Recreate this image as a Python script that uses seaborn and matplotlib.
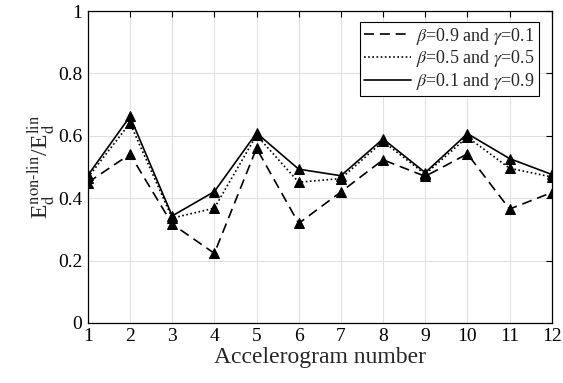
import matplotlib
matplotlib.use("Agg")
import matplotlib.pyplot as plt
import seaborn as sns
import numpy as np

accelerogram = list(range(1, 13))
beta09_gamma01 = [0.450, 0.541, 0.317, 0.223, 0.560, 0.319, 0.420, 0.523, 0.470, 0.542, 0.365, 0.418]
beta05_gamma05 = [0.466, 0.641, 0.336, 0.368, 0.602, 0.451, 0.463, 0.582, 0.477, 0.596, 0.496, 0.468]
beta01_gamma09 = [0.473, 0.662, 0.343, 0.421, 0.609, 0.493, 0.472, 0.590, 0.482, 0.607, 0.527, 0.476]
labels = [r"$\beta$=0.9 and $\gamma$=0.1", r"$\beta$=0.5 and $\gamma$=0.5", r"$\beta$=0.1 and $\gamma$=0.9"]
x_ticks = list(range(1, 13))
y_ticks = [0, 0.2, 0.4, 0.6, 0.8, 1]

sns.set_theme(style="white")
plt.rcParams["font.family"] = ["Liberation Serif", "DejaVu Serif"]
plt.rcParams["mathtext.fontset"] = "stix"

fig = plt.figure(figsize=(5.63, 3.83), dpi=100)
ax = fig.add_axes([0.156, 0.157, 0.824, 0.814])

styles = [(0, (6, 3.5)), (0, (1, 1.5)), "-"]
for vals, lab, ls in zip([beta09_gamma01, beta05_gamma05, beta01_gamma09], labels, styles):
    sns.lineplot(x=accelerogram, y=vals, ax=ax, color="black", linestyle=ls, linewidth=1.2,
                 marker="^", markersize=7, markeredgecolor="black", markerfacecolor="black",
                 label=lab)

ax.set_xlim(1, 12)
ax.set_ylim(0, 1)
ax.set_xticks(x_ticks)
ax.set_yticks(y_ticks)
ax.set_yticklabels(["0", "0.2", "0.4", "0.6", "0.8", "1"])
ax.grid(True, color="#e0e0e0", linewidth=0.8)
ax.tick_params(direction="in", top=True, right=True, length=4, width=0.8, labelsize=14, colors="black", pad=4)
for s in ax.spines.values():
    s.set_color("black")
    s.set_linewidth(0.9)
ax.set_xlabel("Accelerogram number", fontsize=17, labelpad=1)
ax.set_ylabel(r"E$_\mathrm{d}^\mathrm{non\text{-}lin}$/E$_\mathrm{d}^\mathrm{lin}$", fontsize=17, labelpad=1)

leg = ax.legend(loc="upper right", bbox_to_anchor=(0.972, 0.965), fontsize=13, frameon=True,
                fancybox=False, edgecolor="black", framealpha=1, handlelength=2.6,
                handletextpad=0.3, borderpad=0.2, labelspacing=0.1, borderaxespad=0)
leg.get_frame().set_linewidth(0.8)
for h in leg.get_lines():
    h.set_marker("")

fig.savefig("out.png", dpi=100)
